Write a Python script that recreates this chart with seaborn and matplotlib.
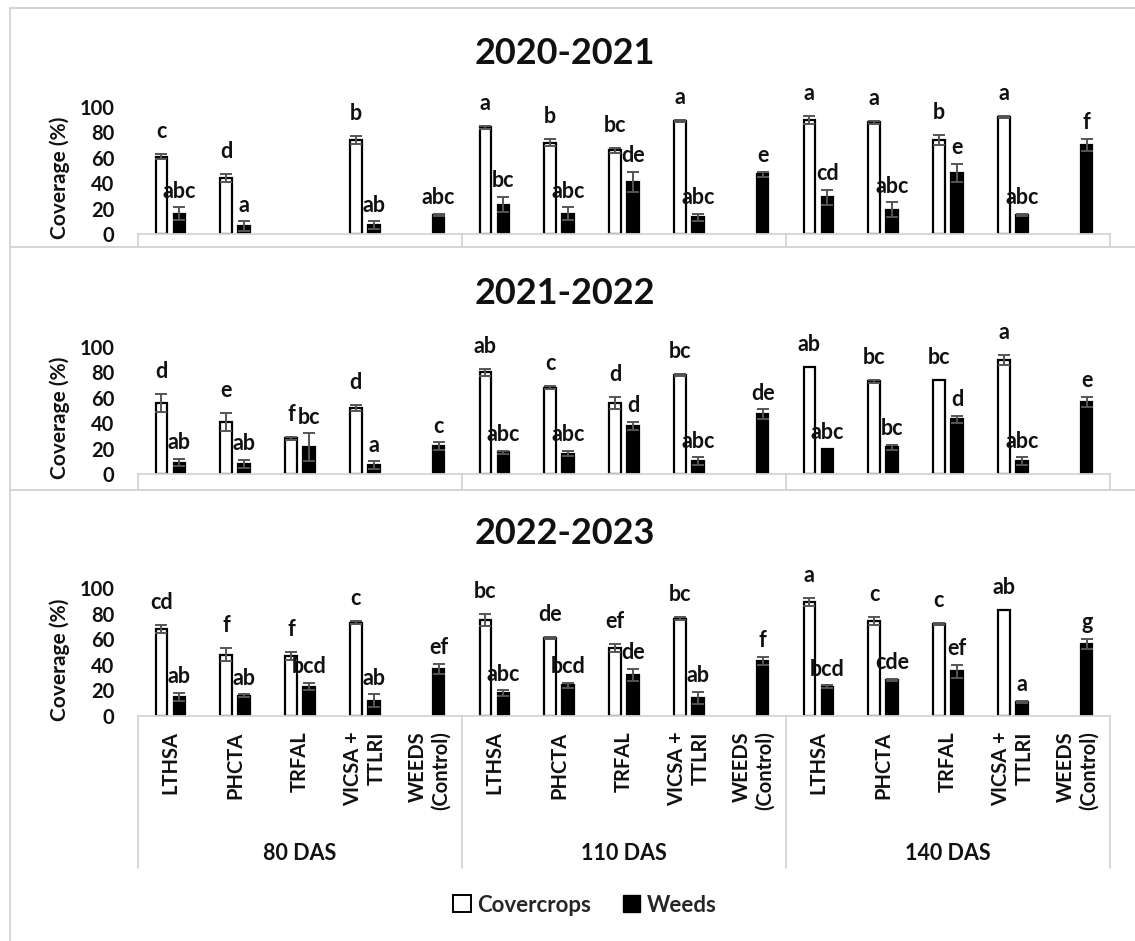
import numpy as np
import pandas as pd
import matplotlib
matplotlib.use("Agg")
import matplotlib.pyplot as plt
from matplotlib.lines import Line2D
from matplotlib.patches import Patch
import seaborn as sns

nan = np.nan

# ---- categories ----
seasons = ["2020-2021", "2021-2022", "2022-2023"]
stages = ["80 DAS", "110 DAS", "140 DAS"]
crops = ["LTHSA", "PHCTA", "TRFAL", "VICSA +\nTTLRI", "WEEDS\n(Control)"]
series = ["Covercrops", "Weeds"]

# ---- 2020-2021 (values in stage order, five crops each) ----
cover_2021 = [61, 44, nan, 74, nan, 84, 72, 66, 89, nan, 90, 88, 74, 92, nan]
cover_sd_2021 = [2, 3, nan, 3, nan, 1, 3, 2, 1, nan, 3, 1, 4, 1, nan]
weeds_2021 = [16, 6, nan, 7, 15, 23, 16, 41, 13, 47, 29, 19, 48, 15, 70]
weeds_sd_2021 = [5, 4, nan, 3, 1, 6, 5, 8, 3, 2, 6, 6, 7, 1, 5]
cover_let_2021 = ["c", "d", "", "b", "", "a", "b", "bc", "a", "", "a", "a", "b", "a", ""]
weeds_let_2021 = ["abc", "a", "", "ab", "abc", "bc", "abc", "de", "abc", "e",
                  "cd", "abc", "e", "abc", "f"]

# ---- 2021-2022 ----
cover_2122 = [56, 41, 28, 52, nan, 80, 68, 56, 78, nan, 84, 73, 74, 90, nan]
cover_sd_2122 = [7, 7, 1, 2, nan, 3, 1, 5, 1, nan, 0, 1, 0, 4, nan]
weeds_2122 = [9, 8, 21, 7, 22, 17, 16, 38, 10, 47, 20, 21, 43, 10, 57]
weeds_sd_2122 = [3, 3, 11, 3, 3, 1, 2, 3, 3, 4, 0, 2, 3, 3, 4]
cover_let_2122 = ["d", "e", "f", "d", "", "ab", "c", "d", "bc", "", "ab", "bc", "bc", "a", ""]
weeds_let_2122 = ["ab", "ab", "bc", "a", "c", "abc", "abc", "d", "abc", "de",
                  "abc", "bc", "d", "abc", "e"]

# ---- 2022-2023 ----
cover_2223 = [68, 48, 47, 73, nan, 75, 61, 53, 76, nan, 89, 74, 72, 83, nan]
cover_sd_2223 = [3, 5, 3, 1, nan, 5, 1, 3, 1, nan, 3, 3, 1, 0, nan]
weeds_2223 = [15, 16, 23, 12, 37, 18, 24, 32, 14, 43, 23, 28, 35, 11, 56]
weeds_sd_2223 = [3, 1, 3, 5, 4, 2, 2, 5, 5, 3, 1, 1, 5, 1, 4]
cover_let_2223 = ["cd", "f", "f", "c", "", "bc", "de", "ef", "bc", "", "a", "c", "c", "ab", ""]
weeds_let_2223 = ["ab", "ab", "bcd", "ab", "ef", "abc", "bcd", "de", "ab", "f",
                  "bcd", "cde", "ef", "a", "g"]

panels = [
    (seasons[0], cover_2021, cover_sd_2021, weeds_2021, weeds_sd_2021, cover_let_2021, weeds_let_2021),
    (seasons[1], cover_2122, cover_sd_2122, weeds_2122, weeds_sd_2122, cover_let_2122, weeds_let_2122),
    (seasons[2], cover_2223, cover_sd_2223, weeds_2223, weeds_sd_2223, cover_let_2223, weeds_let_2223),
]

sns.set_style("white")
plt.rcParams["font.family"] = ["Lato", "DejaVu Sans"]
plt.rcParams["font.weight"] = "bold"

W, H = 1135, 941
fig = plt.figure(figsize=(W / 100, H / 100), dpi=100)
fig.patch.set_facecolor("white")

GRID = "#d4d4d4"
INK = "#111111"
slots = [f"{s}|{c}" for s in stages for c in crops]
n = len(slots)

# axes placement in pixels: (zero line y, 100 line y)
ax_left, ax_right = 138, 1110
rows_px = [(234, 107), (474, 347), (716, 588)]
separators = [247, 490]


def fx(px):
    return px / W


def fy(py):
    return 1 - py / H


for p, ((season, cov, cov_sd, wd, wd_sd, cov_let, wd_let), (y0, y100)) in enumerate(zip(panels, rows_px)):
    ax = fig.add_axes([fx(ax_left), fy(y0), fx(ax_right) - fx(ax_left), (y0 - y100) / H])
    ax.set_facecolor("none")

    df = pd.DataFrame({
        "slot": slots * 2,
        "series": [series[0]] * n + [series[1]] * n,
        "value": list(cov) + list(wd),
    }).dropna()

    sns.barplot(data=df, x="slot", y="value", hue="series", order=slots,
                hue_order=series, palette={"Covercrops": "white", "Weeds": "black"},
                saturation=1, edgecolor="black", linewidth=1.6, width=0.56, gap=0.36,
                errorbar=None, legend=False, ax=ax, zorder=2)

    sd_map = {series[0]: cov_sd, series[1]: wd_sd}
    let_map = {series[0]: cov_let, series[1]: wd_let}
    lift = {series[0]: 11.5, series[1]: 7}
    for name, cont in zip(series, ax.containers):
        for bar in cont:
            cx = bar.get_x() + bar.get_width() / 2
            h = bar.get_height()
            i = int(round(cx))
            sd = sd_map[name][i]
            if sd and sd > 0:
                ax.errorbar(cx, h, yerr=sd, fmt="none", ecolor="#555555",
                            elinewidth=1.4, capsize=4, capthick=1.4, zorder=3)
            top = h + (sd if sd == sd else 0)
            ax.annotate(let_map[name][i], (cx, top), xytext=(0, lift[name]),
                        textcoords="offset points", ha="center", va="baseline",
                        fontsize=15.5, fontweight="bold", color=INK,
                        annotation_clip=False, zorder=4)

    ax.set_ylim(0, 100)
    ax.set_xlim(-0.5, n - 0.5)
    ax.set_yticks(range(0, 101, 20))
    ax.tick_params(axis="y", length=0, pad=17, labelsize=14.5, labelcolor=INK)
    ax.tick_params(axis="x", length=0)
    for t in ax.get_yticklabels():
        t.set_fontweight("bold")
    ax.set_xlabel("")
    ax.set_ylabel("")
    for side in ["top", "right", "left"]:
        ax.spines[side].set_visible(False)
    ax.spines["bottom"].set_color(GRID)
    ax.spines["bottom"].set_linewidth(1.3)

    h_ax = y0 - y100
    ax.text(-0.081, 0.44, "Coverage (%)",
            transform=ax.transAxes, rotation=90, ha="center", va="center",
            fontsize=15, fontweight="bold", color=INK)
    ax.text((565 - ax_left) / (ax_right - ax_left), 1 + 54 / h_ax, season,
            transform=ax.transAxes, ha="center", va="center",
            fontsize=26, fontweight="bold", color=INK)

    if p < 2:
        ax.set_xticklabels([])
        depth = -(separators[p] - y0) / h_ax
    else:
        ax.set_xticks(range(n))
        ax.set_xticklabels([s.split("|")[1] for s in slots], rotation=90,
                           ha="center", va="top", multialignment="right",
                           fontsize=14.5, fontweight="bold", color=INK)
        ax.tick_params(axis="x", pad=11)
        depth = -(868 - y0) / h_ax
        for g, stage in enumerate(stages):
            ax.text(g * 5 + 2, -(853 - y0) / h_ax, stage,
                    transform=ax.get_xaxis_transform(), ha="center", va="center",
                    fontsize=15.5, fontweight="bold", color=INK)
    for xb in [-0.5, 4.5, 9.5, 14.5]:
        ax.axvline(xb, ymin=depth, ymax=0, color=GRID, lw=1.3, clip_on=False)

# chart frame and panel separators
for yy in [8] + separators:
    fig.add_artist(Line2D([fx(10), 1.0], [fy(yy), fy(yy)], color=GRID, lw=1.4,
                          transform=fig.transFigure))
fig.add_artist(Line2D([fx(10), fx(10)], [0, fy(8)], color=GRID, lw=1.4,
                      transform=fig.transFigure))

handles = [Patch(facecolor="white", edgecolor="black", linewidth=1.4, label="Covercrops"),
           Patch(facecolor="black", edgecolor="black", label="Weeds")]
fig.legend(handles=handles, loc="center", bbox_to_anchor=(fx(585), fy(905)),
           ncol=2, frameon=False, handlelength=0.8, handleheight=0.8,
           handletextpad=0.3, columnspacing=1.4,
           prop={"weight": "bold", "size": 16})

fig.savefig("out.png", dpi=100, facecolor="white")
